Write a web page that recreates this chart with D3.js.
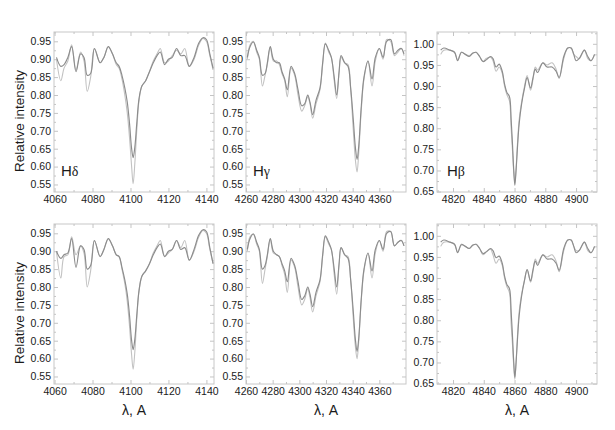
<!DOCTYPE html>
<html>
<head>
    <meta charset="utf-8" />
    <title>Balmer line profiles</title>
    <script src="https://d3js.org/d3.v7.min.js"></script>
    <style>
        body { margin: 0; background: #fff; }
        text { font-family: "Liberation Sans", Arial, sans-serif; }
    </style>
</head>
<body>
<svg width="615" height="430"></svg>

<script>
    // H-delta
    var hdLambda = [4061, 4063.3, 4065, 4067, 4069, 4071.3, 4073.7, 4075.5, 4077.2, 4079,
        4081, 4084, 4086, 4088.3, 4090.5, 4092.5, 4094, 4095.5, 4097, 4098.3,
        4099.5, 4100.6, 4101.4, 4102.3, 4103.3, 4104.5, 4106, 4108, 4110, 4112,
        4114, 4115.7, 4118, 4120, 4122, 4124.3, 4126.5, 4128.6, 4131, 4133.5,
        4136, 4138.2, 4140, 4141.8, 4143.5];
    var hdDarkTop = [0.905, 0.88, 0.885, 0.905, 0.935, 0.865, 0.915, 0.905, 0.855, 0.86,
        0.93, 0.89, 0.905, 0.935, 0.915, 0.89, 0.88, 0.855, 0.82, 0.78,
        0.72, 0.65, 0.625, 0.655, 0.72, 0.79, 0.825, 0.84, 0.865, 0.89,
        0.91, 0.92, 0.885, 0.90, 0.905, 0.93, 0.91, 0.91, 0.88, 0.905,
        0.945, 0.96, 0.955, 0.915, 0.875];
    var hdLightTop = [0.90, 0.84, 0.875, 0.895, 0.94, 0.87, 0.92, 0.895, 0.81, 0.85,
        0.93, 0.89, 0.905, 0.935, 0.915, 0.885, 0.875, 0.845, 0.80, 0.75,
        0.68, 0.60, 0.552, 0.61, 0.70, 0.785, 0.825, 0.84, 0.865, 0.895,
        0.915, 0.93, 0.89, 0.895, 0.91, 0.925, 0.915, 0.93, 0.88, 0.90,
        0.94, 0.958, 0.95, 0.91, 0.87];
    var hdDarkBottom = [0.90, 0.88, 0.89, 0.895, 0.935, 0.855, 0.915, 0.905, 0.85, 0.86,
        0.93, 0.885, 0.905, 0.935, 0.915, 0.89, 0.885, 0.855, 0.82, 0.78,
        0.72, 0.65, 0.625, 0.655, 0.72, 0.79, 0.83, 0.845, 0.865, 0.89,
        0.91, 0.92, 0.885, 0.90, 0.905, 0.93, 0.905, 0.91, 0.875, 0.905,
        0.945, 0.96, 0.955, 0.91, 0.865];
    var hdLightBottom = [0.90, 0.825, 0.885, 0.89, 0.94, 0.89, 0.915, 0.895, 0.80, 0.845,
        0.93, 0.885, 0.905, 0.935, 0.915, 0.89, 0.885, 0.85, 0.81, 0.76,
        0.69, 0.61, 0.57, 0.62, 0.71, 0.79, 0.83, 0.845, 0.865, 0.895,
        0.915, 0.93, 0.885, 0.895, 0.905, 0.93, 0.91, 0.93, 0.875, 0.90,
        0.94, 0.958, 0.95, 0.905, 0.865];

    // H-gamma
    var hgLambda = [4261, 4263, 4265.5, 4268, 4270, 4272.3, 4274.3, 4276, 4278.2, 4280.5,
        4283, 4285, 4287, 4289, 4291, 4293.8, 4296.5, 4299, 4301.8, 4304,
        4306.3, 4308, 4310, 4312.5, 4315.5, 4317.5, 4319.5, 4322, 4324, 4326,
        4328, 4329.8, 4331.3, 4334, 4336.5, 4338.5, 4340.5, 4342, 4343.3, 4344.5,
        4346.5, 4348.5, 4351.5, 4354.5, 4357, 4360, 4362.8, 4365.5, 4368.5, 4371.3,
        4374, 4376.5, 4378.5];
    var hgDarkTop = [0.905, 0.935, 0.948, 0.925, 0.905, 0.855, 0.86, 0.89, 0.935, 0.90,
        0.89, 0.89, 0.865, 0.845, 0.815, 0.88, 0.86, 0.815, 0.77, 0.775,
        0.80, 0.78, 0.745, 0.785, 0.82, 0.89, 0.943, 0.925, 0.905, 0.855,
        0.80, 0.865, 0.91, 0.89, 0.88, 0.82, 0.73, 0.655, 0.62, 0.655,
        0.77, 0.85, 0.895, 0.845, 0.905, 0.93, 0.905, 0.95, 0.955, 0.915,
        0.925, 0.93, 0.915];
    var hgLightTop = [0.90, 0.94, 0.95, 0.92, 0.90, 0.825, 0.855, 0.885, 0.935, 0.895,
        0.895, 0.885, 0.86, 0.84, 0.795, 0.875, 0.855, 0.80, 0.755, 0.77,
        0.795, 0.775, 0.735, 0.775, 0.815, 0.885, 0.945, 0.92, 0.905, 0.845,
        0.79, 0.86, 0.905, 0.89, 0.885, 0.815, 0.70, 0.62, 0.585, 0.635,
        0.76, 0.845, 0.895, 0.825, 0.895, 0.93, 0.90, 0.955, 0.95, 0.91,
        0.92, 0.93, 0.91];
    var hgDarkBottom = [0.905, 0.935, 0.948, 0.925, 0.905, 0.85, 0.86, 0.89, 0.935, 0.90,
        0.89, 0.885, 0.865, 0.845, 0.815, 0.88, 0.86, 0.815, 0.765, 0.775,
        0.80, 0.78, 0.745, 0.785, 0.82, 0.89, 0.943, 0.925, 0.905, 0.855,
        0.80, 0.865, 0.91, 0.89, 0.88, 0.82, 0.73, 0.655, 0.62, 0.655,
        0.77, 0.85, 0.895, 0.845, 0.905, 0.93, 0.905, 0.95, 0.955, 0.915,
        0.925, 0.93, 0.915];
    var hgLightBottom = [0.90, 0.94, 0.948, 0.92, 0.90, 0.81, 0.85, 0.885, 0.935, 0.895,
        0.89, 0.885, 0.86, 0.835, 0.785, 0.875, 0.855, 0.80, 0.75, 0.765,
        0.795, 0.77, 0.73, 0.775, 0.815, 0.885, 0.94, 0.92, 0.905, 0.84,
        0.78, 0.86, 0.91, 0.89, 0.885, 0.82, 0.71, 0.635, 0.60, 0.645,
        0.765, 0.845, 0.895, 0.825, 0.895, 0.93, 0.90, 0.955, 0.955, 0.915,
        0.925, 0.93, 0.915];

    // H-beta
    var hbLambda = [4812, 4814, 4818, 4821, 4823, 4825.5, 4828, 4830.5, 4833, 4835,
        4837.3, 4839.5, 4841.6, 4844.4, 4846, 4848, 4850, 4852, 4853.5, 4855,
        4856.7, 4857.8, 4858.7, 4859.5, 4860.2, 4861, 4862, 4863, 4864.5, 4866.5, 4868.2,
        4870.4, 4872, 4873.5, 4875, 4878.4, 4881.2, 4884.4, 4887, 4889, 4892,
        4894.6, 4896.8, 4898.5, 4900, 4902, 4905.4, 4907.6, 4909.7, 4912];
    var hbDarkTop = [0.985, 0.99, 0.985, 0.98, 0.96, 0.98, 0.975, 0.97, 0.978, 0.98,
        0.97, 0.958, 0.962, 0.97, 0.965, 0.945, 0.952, 0.935, 0.905, 0.885,
        0.875, 0.82, 0.76, 0.70, 0.665, 0.70, 0.76, 0.81, 0.855, 0.895, 0.92,
        0.895, 0.92, 0.94, 0.932, 0.955, 0.945, 0.945, 0.935, 0.92, 0.97,
        0.99, 0.99, 0.975, 0.96, 0.965, 0.985, 0.97, 0.96, 0.975];
    var hbLightTop = [0.975, 0.985, 0.985, 0.98, 0.962, 0.98, 0.975, 0.972, 0.978, 0.98,
        0.97, 0.958, 0.965, 0.968, 0.96, 0.935, 0.945, 0.93, 0.90, 0.88,
        0.865, 0.80, 0.745, 0.695, 0.672, 0.705, 0.77, 0.82, 0.86, 0.90, 0.925,
        0.89, 0.915, 0.945, 0.938, 0.955, 0.95, 0.955, 0.94, 0.918, 0.965,
        0.99, 0.99, 0.975, 0.97, 0.965, 0.985, 0.965, 0.96, 0.975];
    var hbDarkBottom = [0.985, 0.99, 0.985, 0.98, 0.96, 0.98, 0.975, 0.97, 0.978, 0.98,
        0.97, 0.958, 0.962, 0.97, 0.965, 0.948, 0.952, 0.935, 0.905, 0.885,
        0.875, 0.82, 0.76, 0.70, 0.665, 0.70, 0.76, 0.81, 0.855, 0.895, 0.92,
        0.893, 0.92, 0.94, 0.93, 0.955, 0.945, 0.945, 0.935, 0.918, 0.97,
        0.99, 0.99, 0.975, 0.96, 0.965, 0.985, 0.97, 0.96, 0.975];
    var hbLightBottom = [0.975, 0.985, 0.985, 0.98, 0.962, 0.978, 0.975, 0.97, 0.978, 0.98,
        0.97, 0.955, 0.962, 0.968, 0.955, 0.935, 0.945, 0.93, 0.90, 0.88,
        0.865, 0.79, 0.74, 0.69, 0.66, 0.70, 0.77, 0.82, 0.86, 0.895, 0.92,
        0.89, 0.915, 0.945, 0.935, 0.955, 0.95, 0.955, 0.94, 0.915, 0.965,
        0.99, 0.99, 0.975, 0.965, 0.965, 0.985, 0.965, 0.96, 0.975];

    // Tick labels
    var hdTicks = [4060, 4080, 4100, 4120, 4140];
    var hgTicks = [4260, 4280, 4300, 4320, 4340, 4360];
    var hbTicks = [4820, 4840, 4860, 4880, 4900];
    var yTicksLow = [0.55, 0.60, 0.65, 0.70, 0.75, 0.80, 0.85, 0.90, 0.95];
    var yTicksHigh = [0.65, 0.70, 0.75, 0.80, 0.85, 0.90, 0.95, 1.00];
    var lineNames = ["\u03b4", "\u03b3", "\u03b2"];

    var svg = d3.select("svg");
    var W = 160, H = 160;
    var colX = [54, 246, 437];
    var rowY = [32, 224];

    // one entry per column
    var cols = [
        { lambda: hdLambda, xd: [4059.7, 4144], yd: [0.529, 0.976], xt: hdTicks, yt: yTicksLow,
          rows: [[hdDarkTop, hdLightTop], [hdDarkBottom, hdLightBottom]] },
        { lambda: hgLambda, xd: [4260, 4380], yd: [0.529, 0.976], xt: hgTicks, yt: yTicksLow,
          rows: [[hgDarkTop, hgLightTop], [hgDarkBottom, hgLightBottom]] },
        { lambda: hbLambda, xd: [4809.6, 4913.6], yd: [0.649, 1.028], xt: hbTicks, yt: yTicksHigh,
          rows: [[hbDarkTop, hbLightTop], [hbDarkBottom, hbLightBottom]] }
    ];

    function midTicks(t) {
        var out = [];
        var step = t[1] - t[0];
        out.push(t[0] - step / 2);
        t.forEach(function (v) { out.push(v + step / 2); });
        return out;
    }

    function styleAxis(sel) {
        sel.select(".domain").remove();
        sel.selectAll("line").attr("stroke", "#c4c4c4");
        sel.selectAll("text").attr("fill", "#1a1a1a").style("font-size", "10.5px");
    }

    cols.forEach(function (c, ci) {
        var x = d3.scaleLinear().domain(c.xd).range([0, W]);
        var y = d3.scaleLinear().domain(c.yd).range([H, 0]);
        var xMinor = midTicks(c.xt).filter(function (v) { return v > c.xd[0] && v < c.xd[1]; });
        var yMinor = midTicks(c.yt).filter(function (v) { return v > c.yd[0] && v < c.yd[1]; });

        c.rows.forEach(function (series, ri) {
            var g = svg.append("g")
                .attr("transform", "translate(" + colX[ci] + "," + rowY[ri] + ")");

            var clipId = "clip" + ci + ri;
            g.append("clipPath").attr("id", clipId)
                .append("rect").attr("width", W).attr("height", H);

            // frame
            g.append("rect")
                .attr("width", W).attr("height", H)
                .attr("fill", "none").attr("stroke", "#c8c8c8");

            // major ticks with labels
            g.append("g").attr("transform", "translate(0," + H + ")")
                .call(d3.axisBottom(x).tickValues(c.xt).tickFormat(d3.format("d")).tickSize(-4).tickPadding(4))
                .call(styleAxis);
            g.append("g")
                .call(d3.axisLeft(y).tickValues(c.yt).tickFormat(d3.format(".2f")).tickSize(-4).tickPadding(3))
                .call(styleAxis);
            g.append("g")
                .call(d3.axisTop(x).tickValues(c.xt).tickFormat("").tickSize(-4))
                .call(styleAxis);
            g.append("g").attr("transform", "translate(" + W + ",0)")
                .call(d3.axisRight(y).tickValues(c.yt).tickFormat("").tickSize(-4))
                .call(styleAxis);

            // minor ticks
            g.append("g").attr("transform", "translate(0," + H + ")")
                .call(d3.axisBottom(x).tickValues(xMinor).tickFormat("").tickSize(-2))
                .call(styleAxis);
            g.append("g")
                .call(d3.axisTop(x).tickValues(xMinor).tickFormat("").tickSize(-2))
                .call(styleAxis);
            g.append("g")
                .call(d3.axisLeft(y).tickValues(yMinor).tickFormat("").tickSize(-2))
                .call(styleAxis);
            g.append("g").attr("transform", "translate(" + W + ",0)")
                .call(d3.axisRight(y).tickValues(yMinor).tickFormat("").tickSize(-2))
                .call(styleAxis);

            var line = d3.line()
                .x(function (d, i) { return x(c.lambda[i]); })
                .y(function (d) { return y(d); })
                .curve(d3.curveCatmullRom.alpha(0.5));

            var plot = g.append("g").attr("clip-path", "url(#" + clipId + ")");
            // observed / model spectra
            plot.append("path").datum(series[1])
                .attr("d", line).attr("fill", "none")
                .attr("stroke", "#c2c2c2").attr("stroke-width", 1.1);
            plot.append("path").datum(series[0])
                .attr("d", line).attr("fill", "none")
                .attr("stroke", "#8c8c8c").attr("stroke-width", 1.15);

            // line name in the first row
            if (ri == 0) {
                var t = g.append("text")
                    .attr("x", ci == 2 ? 10 : 7)
                    .attr("y", H - 16)
                    .attr("fill", "#1a1a1a")
                    .style("font-size", "15px")
                    .text("H");
                t.append("tspan")
                    .style("font-family", "'Liberation Serif', 'DejaVu Serif', serif")
                    .style("font-size", "14px")
                    .text(lineNames[ci]);
            }

            // x title in the second row
            if (ri == 1) {
                g.append("text")
                    .attr("x", W / 2)
                    .attr("y", H + 31)
                    .attr("text-anchor", "middle")
                    .attr("fill", "#1a1a1a")
                    .style("font-size", "14px")
                    .text("\u03bb, A");
            }

            // y title for the first column
            if (ci == 0) {
                g.append("text")
                    .attr("transform", "translate(-30," + (H / 2 + 9) + ") rotate(-90)")
                    .attr("text-anchor", "middle")
                    .attr("fill", "#1a1a1a")
                    .style("font-size", "13.5px")
                    .text("Relative intensity");
            }
        });
    });
</script>
</body>
</html>
